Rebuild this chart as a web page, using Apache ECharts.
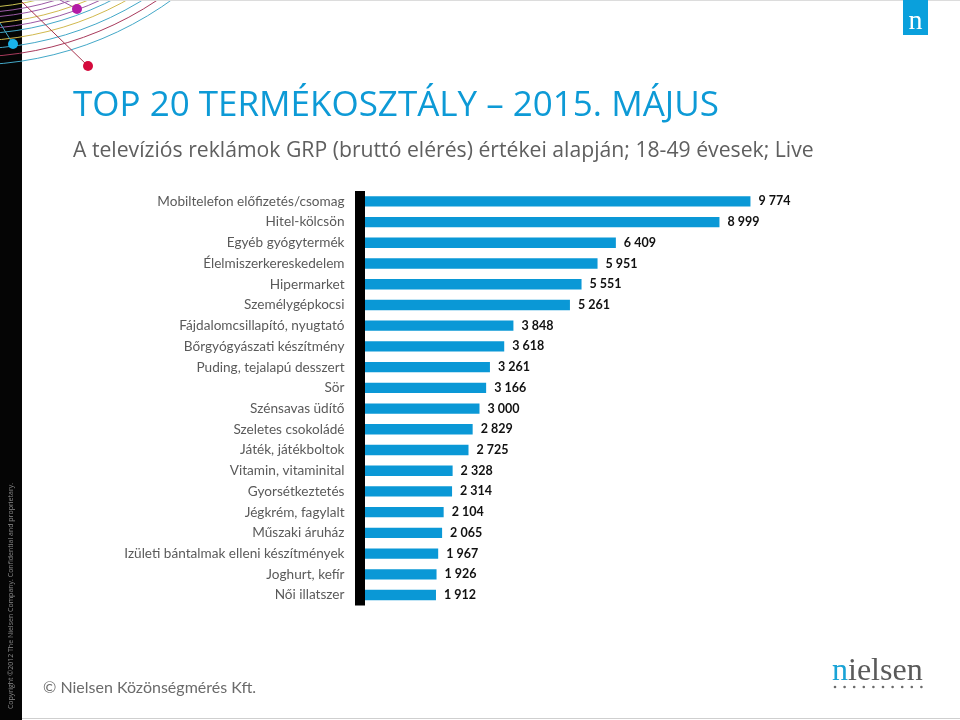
<!DOCTYPE html>
<html>
<head>
<meta charset="utf-8">
<script src="https://cdn.jsdelivr.net/npm/echarts@6/dist/echarts.min.js"></script>
<style>
html,body{margin:0;padding:0;background:#fff;}
#chart{width:960px;height:720px;}
</style>
</head>
<body>
<div id="chart"></div>
<script>
var categories = [
  "Mobiltelefon előfizetés/csomag",
  "Hitel-kölcsön",
  "Egyéb gyógytermék",
  "Élelmiszerkereskedelem",
  "Hipermarket",
  "Személygépkocsi",
  "Fájdalomcsillapító, nyugtató",
  "Bőrgyógyászati készítmény",
  "Puding, tejalapú desszert",
  "Sör",
  "Szénsavas üdítő",
  "Szeletes csokoládé",
  "Játék, játékboltok",
  "Vitamin, vitaminital",
  "Gyorsétkeztetés",
  "Jégkrém, fagylalt",
  "Műszaki áruház",
  "Izületi bántalmak elleni készítmények",
  "Joghurt, kefír",
  "Női illatszer"
];
var grpValues = [9774, 8999, 6409, 5951, 5551, 5261, 3848, 3618, 3261, 3166, 3000, 2829, 2725, 2328, 2314, 2104, 2065, 1967, 1926, 1912];

var titleText = "TOP 20 TERMÉKOSZTÁLY – 2015. MÁJUS";
var subtitleText = "A televíziós reklámok GRP (bruttó elérés) értékei alapján; 18-49 évesek; Live";
var footerText = "© Nielsen Közönségmérés Kft.";
var sideText = "Copyright ©2012 The Nielsen Company. Confidential and proprietary.";

function fmt(v) {
  return String(v).replace(/\B(?=(\d{3})+(?!\d))/g, " ");
}

var chart = echarts.init(document.getElementById('chart'));

// decorative arcs
var arcRadii = [288, 293, 298, 304, 309, 314, 321, 329, 337, 345];
var arcColors = ['#c8c050', '#9b5aa6', '#9b5aa6', '#d1b94e', '#9b5aa6', '#43a8c8', '#d1b94e', '#43a8c8', '#a83a5c', '#43a8c8'];
var graphics = [];
graphics.push({ type: 'rect', z: 0, shape: { x: 0, y: 0, width: 22, height: 720 }, style: { fill: '#050505' } });
arcRadii.forEach(function (r, i) {
  graphics.push({
    type: 'arc', silent: true, z: 1,
    shape: { cx: -30, cy: -280, r: r, startAngle: 0, endAngle: Math.PI / 2 },
    style: { stroke: arcColors[i], lineWidth: 1, fill: null }
  });
});
graphics.push(
  { type: 'line', z: 2, shape: { x1: 22, y1: 2, x2: 88, y2: 66 }, style: { stroke: '#a8334e', lineWidth: 1 } },
  { type: 'circle', z: 3, shape: { cx: 88, cy: 66, r: 5 }, style: { fill: '#d40a3c' } },
  { type: 'line', z: 2, shape: { x1: 60, y1: 0, x2: 77, y2: 9 }, style: { stroke: '#9b5aa6', lineWidth: 1 } },
  { type: 'circle', z: 3, shape: { cx: 77, cy: 9, r: 5 }, style: { fill: '#b31ba6' } },
  { type: 'line', z: 2, shape: { x1: 0, y1: 23, x2: 13, y2: 44 }, style: { stroke: '#43a8c8', lineWidth: 1 } },
  { type: 'circle', z: 3, shape: { cx: 13, cy: 44, r: 5 }, style: { fill: '#19b2ea' } },
  { type: 'line', z: 1, shape: { x1: 22, y1: 718.5, x2: 960, y2: 718.5 }, style: { stroke: '#cfcfcf', lineWidth: 1 } },
  { type: 'line', z: 1, shape: { x1: 22, y1: 0.5, x2: 960, y2: 0.5 }, style: { stroke: '#dcdcdc', lineWidth: 1 } },
  { type: 'rect', z: 2, shape: { x: 903, y: 0, width: 25, height: 35 }, style: { fill: '#0aa0dc' } },
  { type: 'text', z: 3, x: 915.5, y: 22, style: { text: 'n', fill: '#ffffff', font: '28px "Liberation Serif"', align: 'center', verticalAlign: 'middle' } },
  { type: 'text', z: 3, x: 73, y: 106, style: { text: titleText, fill: '#0d9ad6', font: '35px "Open Sans"', align: 'left', verticalAlign: 'middle' } },
  { type: 'text', z: 3, x: 73, y: 151, style: { text: subtitleText, fill: '#5f5f5f', font: '21.2px "Open Sans"', align: 'left', verticalAlign: 'middle' } },
  { type: 'text', z: 3, x: 43, y: 688, style: { text: footerText, fill: '#6b6b6b', font: '16px Lato', align: 'left', verticalAlign: 'middle' } },
  { type: 'text', z: 3, x: 11, y: 596, rotation: Math.PI / 2, style: { text: sideText, fill: '#8a8a8a', font: '7px "Open Sans"', align: 'center', verticalAlign: 'middle' } },
  { type: 'text', z: 3, x: 832, y: 672, style: { rich: { b: { fill: '#19a3d6', font: '32px "Liberation Serif"' }, g: { fill: '#5a5a5a', font: '32px "Liberation Serif"' } }, text: '{b|n}{g|ielsen}', align: 'left', verticalAlign: 'middle' } }
);
for (var d = 0; d < 10; d++) {
  graphics.push({ type: 'circle', z: 3, shape: { cx: 835 + d * 9.6, cy: 687, r: 1.3 }, style: { fill: '#6a6a6a' } });
}

chart.setOption({
  animation: false,
  backgroundColor: '#ffffff',
  grid: { left: 359.5, top: 191, width: 400, height: 414.4, containLabel: false },
  xAxis: {
    type: 'value', min: 0, max: 10000,
    show: false, splitLine: { show: false }
  },
  yAxis: {
    type: 'category', data: categories, inverse: true, z: 5,
    axisLine: { show: true, lineStyle: { color: '#000000', width: 10, cap: 'butt' } },
    axisTick: { show: false },
    axisLabel: { color: '#5a5a5a', fontSize: 13.6, fontFamily: 'Lato', margin: 15 }
  },
  series: [{
    type: 'bar', data: grpValues, barWidth: '50%', z: 2,
    itemStyle: { color: '#0a98d6' },
    label: {
      show: true, position: 'right', distance: 8,
      formatter: function (p) { return fmt(p.value); },
      color: '#111111', fontSize: 12.5, fontWeight: 'bold', fontFamily: 'Lato'
    }
  }],
  graphic: graphics
});
</script>
</body>
</html>
